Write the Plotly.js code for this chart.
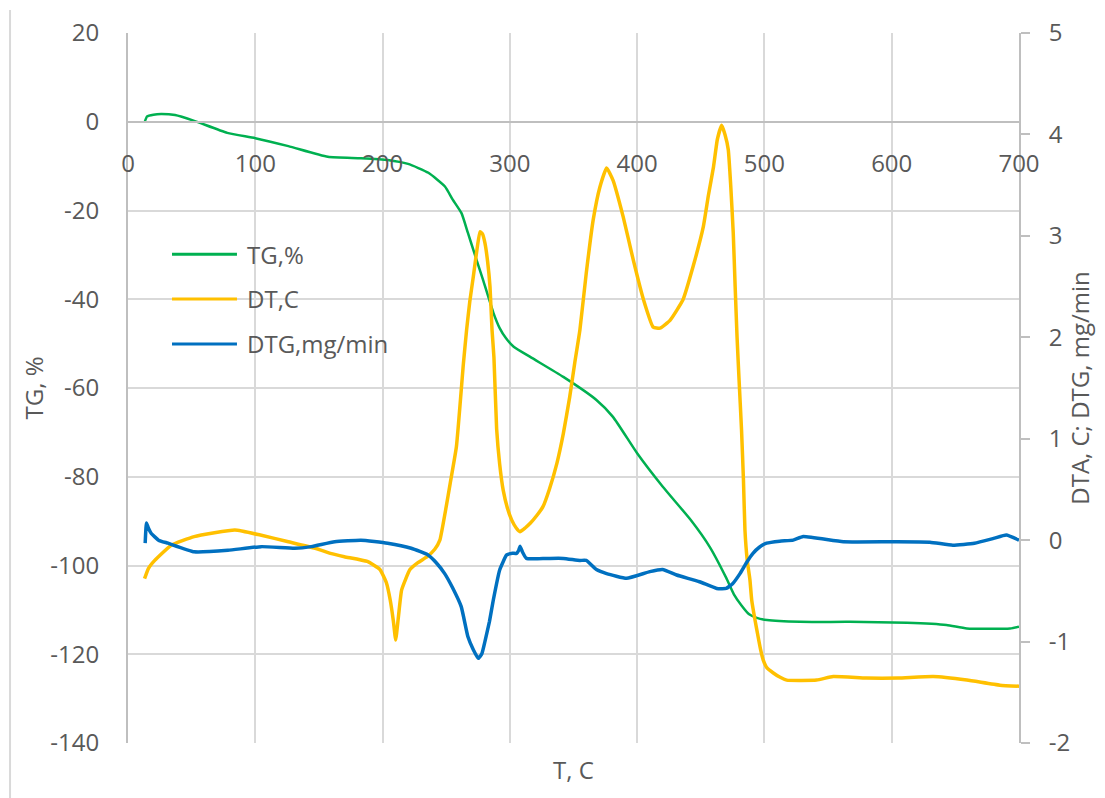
<!DOCTYPE html>
<html>
<head>
<meta charset="utf-8">
<script src="https://cdn.plot.ly/plotly-3.0.1.min.js"></script>
<style>html,body{margin:0;padding:0;background:#fff;}#chart{width:1105px;height:798px;}</style>
</head>
<body>
<div id="chart"></div>
<script>
// ---- data ----
const seriesNames = ["TG,%", "DT,C", "DTG,mg/min"];
const seriesColors = ["#00B050", "#FFC000", "#0070C0"];

const xTicks = [0, 100, 200, 300, 400, 500, 600, 700];
const yTicks = [-140, -120, -100, -80, -60, -40, -20, 0, 20];
const y2Ticks = [-2, -1, 0, 1, 2, 3, 4, 5];

const tgT = [13, 15, 20, 26, 37, 52, 78, 100, 126, 157, 183, 204, 220, 236, 249, 255, 262, 267, 272, 279, 287, 292, 297, 303, 316, 342, 368, 381, 400, 420, 442, 457, 470, 476, 482, 488, 494, 502, 528, 567, 612, 643, 659, 693, 700];
const tgV = [-0.2, 1.2, 1.6, 1.75, 1.5, 0.2, -2.5, -3.7, -5.5, -7.9, -8.2, -8.6, -9.5, -11.5, -14.6, -17.5, -20.6, -25, -29.5, -35.7, -43, -46.5, -48.8, -50.7, -53, -57.5, -62.7, -66.5, -74.7, -82.2, -89.7, -95.8, -102.8, -106.5, -109, -111, -111.8, -112.3, -112.7, -112.7, -112.9, -113.4, -114.2, -114.2, -113.8];

const dtaT = [13, 16, 21, 34, 52, 84, 104, 126, 147, 159, 170, 188, 198, 203, 206, 208.5, 210.3, 212.5, 215, 221.5, 228, 235, 241, 245, 250, 253, 258, 263.5, 266, 268.5, 271.3, 274, 276.5, 278.5, 280.4, 282.5, 284.4, 286, 287.5, 289.6, 292, 294.8, 298, 301.4, 305, 308, 312, 316, 321, 326, 331, 337, 342, 347, 351, 355, 360, 365.5, 370.7, 376, 381, 389, 397, 405, 412.6, 418, 426, 436, 444, 452, 456, 460, 463, 466.4, 469, 471.6, 473.5, 475.5, 477, 478.5, 480, 482, 483.5, 484.7, 486.5, 488.6, 490, 492.5, 495, 497, 499, 502, 507, 512, 517.5, 541, 554, 580, 605, 632.6, 659, 685, 700];
const dtaV = [-0.38, -0.28, -0.2, -0.05, 0.035, 0.1, 0.05, -0.016, -0.08, -0.13, -0.163, -0.21, -0.29, -0.42, -0.59, -0.8, -0.985, -0.75, -0.49, -0.29, -0.22, -0.163, -0.09, 0.0, 0.33, 0.55, 0.92, 1.74, 2.07, 2.35, 2.6, 2.85, 3.04, 3.02, 2.93, 2.75, 2.5, 2.07, 1.8, 1.1, 0.75, 0.49, 0.32, 0.2, 0.12, 0.083, 0.12, 0.166, 0.24, 0.33, 0.5, 0.76, 1.05, 1.41, 1.75, 2.07, 2.63, 3.16, 3.48, 3.67, 3.55, 3.19, 2.76, 2.37, 2.1, 2.09, 2.17, 2.37, 2.7, 3.09, 3.4, 3.68, 3.95, 4.09, 4.0, 3.85, 3.5, 3.03, 2.5, 2.0, 1.6, 1.09, 0.6, 0.1, -0.2, -0.39, -0.59, -0.78, -0.95, -1.08, -1.18, -1.26, -1.31, -1.35, -1.38, -1.38, -1.345, -1.36, -1.36, -1.345, -1.38, -1.43, -1.44];

const dtgT = [13.5, 14.5, 16, 18.3, 24, 31.4, 52, 78.5, 104.7, 131, 144, 162.4, 183, 204, 222.5, 235.7, 242, 248.8, 255, 261.8, 267, 271.3, 275.2, 278, 280.4, 284, 287, 292, 297.5, 302, 305.3, 307, 308, 310, 313, 329, 342, 355, 360, 368, 376, 391.7, 410, 420, 431, 449, 462.5, 470, 475, 480.8, 486, 491, 496, 501.7, 512, 522.6, 530.5, 562, 601, 630, 648, 665, 680, 690, 700];
const dtgV = [-0.03, 0.17, 0.12, 0.066, 0.0, -0.03, -0.115, -0.1, -0.064, -0.08, -0.064, -0.016, 0.0, -0.03, -0.08, -0.146, -0.22, -0.33, -0.47, -0.656, -0.95, -1.08, -1.165, -1.12, -1.0, -0.8, -0.59, -0.294, -0.146, -0.13, -0.13, -0.1, -0.06, -0.12, -0.18, -0.18, -0.18, -0.2, -0.2, -0.29, -0.33, -0.376, -0.31, -0.29, -0.344, -0.41, -0.476, -0.476, -0.43, -0.33, -0.22, -0.13, -0.07, -0.03, -0.01, 0.0, 0.035, -0.016, -0.016, -0.02, -0.05, -0.03, 0.017, 0.05, 0.0];

const xTitle = "T, C";
const yTitle = "TG, %";
const y2Title = "DTA, C; DTG, mg/min";

// ---- chart ----
const FONT = "'Open Sans', 'DejaVu Sans', sans-serif";
const TXT = "#595959";
const GRID = "#D9D9D9";
const AX = "#BFBFBF";
const fmt = v => String(v); // plain hyphen-minus as in the reference

const traces = [
  {x: tgT, y: tgV, name: seriesNames[0], type: "scatter", mode: "lines", yaxis: "y",
   line: {color: seriesColors[0], width: 2.5, shape: "spline", smoothing: 0.5}},
  {x: dtaT, y: dtaV, name: seriesNames[1], type: "scatter", mode: "lines", yaxis: "y2",
   line: {color: seriesColors[1], width: 3.5, shape: "spline", smoothing: 0.4}},
  {x: dtgT, y: dtgV, name: seriesNames[2], type: "scatter", mode: "lines", yaxis: "y2",
   line: {color: seriesColors[2], width: 3.5, shape: "spline", smoothing: 0.4}}
];

// manual legend (long sample lines as in the reference)
const legRows = [0.6883, 0.6254, 0.562];
const shapes = [
  {type: "line", xref: "paper", yref: "paper", x0: -0.1324, x1: -0.1324, y0: -0.08, y1: 1.0324,
   line: {color: GRID, width: 2}}
];
const annotations = [
  {text: xTitle, xref: "paper", yref: "paper", x: 0.5, y: -0.038, xanchor: "center", yanchor: "middle",
   showarrow: false, font: {family: FONT, size: 24, color: TXT}}
];
seriesNames.forEach((nm, i) => {
  shapes.push({type: "line", xref: "paper", yref: "paper", x0: 0.0494, x1: 0.1223,
    y0: legRows[i], y1: legRows[i], line: {color: seriesColors[i], width: 3}});
  annotations.push({text: nm, xref: "paper", yref: "paper", x: 0.1313, y: legRows[i],
    xanchor: "left", yanchor: "middle", showarrow: false,
    font: {family: FONT, size: 24, color: TXT}});
});

const layout = {
  width: 1105, height: 798,
  margin: {l: 128, r: 86, t: 33, b: 55},
  paper_bgcolor: "#fff", plot_bgcolor: "#fff",
  showlegend: false,
  font: {family: FONT, size: 24, color: TXT},
  xaxis: {
    range: [0, 700], tickmode: "array", tickvals: xTicks, ticktext: xTicks.map(fmt),
    anchor: "free", position: 0.875,
    showgrid: true, gridcolor: GRID, gridwidth: 2,
    showline: true, linecolor: AX, linewidth: 2,
    zeroline: false, ticks: "", ticklabelstandoff: 20,
    tickfont: {family: FONT, size: 24, color: TXT}
  },
  yaxis: {
    range: [-140, 20], tickmode: "array", tickvals: yTicks, ticktext: yTicks.map(fmt),
    showgrid: true, gridcolor: GRID, gridwidth: 2,
    showline: true, linecolor: AX, linewidth: 2,
    zeroline: false, ticks: "", ticklabelstandoff: 22,
    tickfont: {family: FONT, size: 24, color: TXT},
    title: {text: yTitle, standoff: 0, font: {family: FONT, size: 24, color: TXT}}
  },
  yaxis2: {
    range: [-2, 5], tickmode: "array", tickvals: y2Ticks, ticktext: y2Ticks.map(fmt),
    overlaying: "y", side: "right", anchor: "x",
    showgrid: false, zeroline: false,
    showline: true, linecolor: AX, linewidth: 2,
    ticks: "outside", ticklen: 9, tickwidth: 2, tickcolor: AX, ticklabelstandoff: 14,
    tickfont: {family: FONT, size: 24, color: TXT},
    title: {text: y2Title, standoff: 0, font: {family: FONT, size: 24, color: TXT}}
  },
  shapes: shapes,
  annotations: annotations
};

Plotly.newPlot("chart", traces, layout, {displayModeBar: false, staticPlot: true});
</script>
</body>
</html>
